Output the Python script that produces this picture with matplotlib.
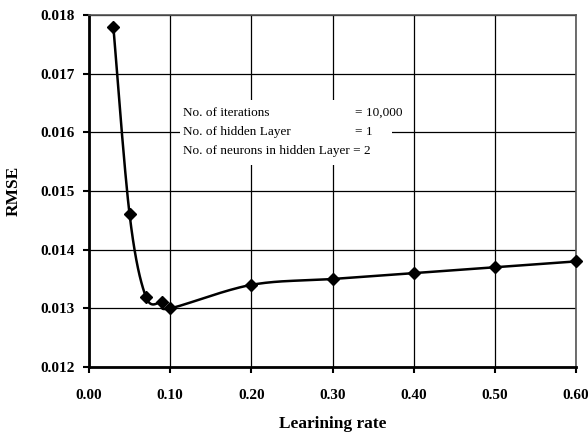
import numpy as np
import matplotlib
matplotlib.use("Agg")
import matplotlib.pyplot as plt
from matplotlib.patches import Rectangle

learning_rate = [0.03, 0.05, 0.07, 0.09, 0.10, 0.20, 0.30, 0.40, 0.50, 0.60]
rmse = [0.0178, 0.0146, 0.0132, 0.0131, 0.0130, 0.0134, 0.0135, 0.0136, 0.0137, 0.0138]
x_ticks = [0.0, 0.1, 0.2, 0.3, 0.4, 0.5, 0.6]
y_ticks = [0.012, 0.013, 0.014, 0.015, 0.016, 0.017, 0.018]
info_labels = ["No. of iterations", "No. of hidden Layer", "No. of neurons in hidden Layer = 2"]
info_values = ["= 10,000", "= 1", ""]

plt.rcParams['font.family'] = ['Liberation Serif', 'DejaVu Serif']

fig = plt.figure(figsize=(5.88, 4.34), dpi=100)
ax = fig.add_axes([89/588, 1-367/434, (576-89)/588, (367-15)/434])

# Excel-like smoothed line (Catmull-Rom through the data points)
x = np.array(learning_rate); y = np.array(rmse)
sx = 487/0.6; sy = 352/0.006
P = np.column_stack([x*sx, y*sy])
P_ext = np.vstack([P[0], P, P[-1]])
curve = []
t = np.linspace(0, 1, 30)
for i in range(1, len(P_ext)-2):
    p0, p1, p2, p3 = P_ext[i-1], P_ext[i], P_ext[i+1], P_ext[i+2]
    c1 = p1 + (p2 - p0)/6
    c2 = p2 - (p3 - p1)/6
    seg = ((1-t)**3)[:, None]*p1 + (3*(1-t)**2*t)[:, None]*c1 + (3*(1-t)*t**2)[:, None]*c2 + (t**3)[:, None]*p2
    curve.append(seg)
curve = np.vstack(curve)
ax.plot(curve[:, 0]/sx, curve[:, 1]/sy, color='black', lw=1.8, zorder=3, clip_on=False)
ax.plot(learning_rate, rmse, linestyle='none', marker='D', ms=6.5, color='black', zorder=4, clip_on=False)

ax.set_xlim(0, 0.6)
ax.set_ylim(0.012, 0.018)
ax.set_xticks(x_ticks)
ax.set_yticks(y_ticks)
ax.set_xticklabels([f"{v:.2f}" for v in x_ticks], fontweight='bold', fontsize=11)
ax.set_yticklabels([f"{v:.3f}" for v in y_ticks], fontweight='bold', fontsize=11)
ax.grid(True, color='black', lw=0.9, zorder=0)
ax.set_axisbelow(True)
for s in ['left', 'bottom']:
    ax.spines[s].set_linewidth(2)
for s in ['top', 'right']:
    ax.spines[s].set_linewidth(1.2)
    ax.spines[s].set_color('#555555')
ax.tick_params(axis='both', direction='out', length=4, width=1.5, color='black')
ax.tick_params(axis='x', pad=12)
ax.tick_params(axis='y', pad=6)

ax.set_xlabel("Learining rate", fontweight='bold', fontsize=12.5, labelpad=10)
ax.set_ylabel("RMSE", fontweight='bold', fontsize=12.5, labelpad=14)

# info box
ax.add_patch(Rectangle((0.187, 0.574), 0.435, 0.185, transform=ax.transAxes,
                       facecolor='white', edgecolor='none', zorder=2))
ys = [0.722, 0.668, 0.614]
for lab, val, yy in zip(info_labels, info_values, ys):
    ax.text(0.193, yy, lab, transform=ax.transAxes, fontsize=9.5, va='center', ha='left', zorder=5)
    if val:
        ax.text(0.546, yy, val, transform=ax.transAxes, fontsize=9.5, va='center', ha='left', zorder=5)

fig.savefig("out.png", dpi=100)
